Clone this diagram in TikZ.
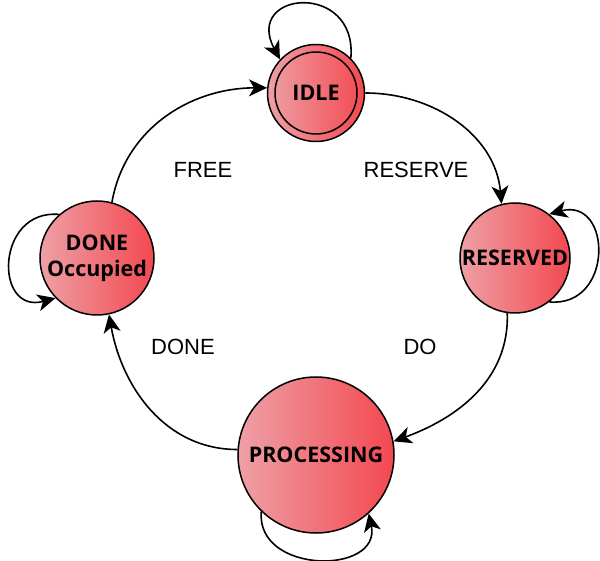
\documentclass[tikz,border=0pt]{standalone}
\usepackage{fontspec}
\setmainfont{Liberation Sans}
\newfontfamily\statefont{Open Sans}
\usetikzlibrary{arrows.meta,automata,positioning}
\definecolor{stateleft}{RGB}{238,160,166}
\definecolor{stateright}{RGB}{244,72,80}

\begin{document}
\begin{tikzpicture}[x=1pt,y=1pt,
    state/.style={circle, draw, line width=1.5pt, inner sep=0pt,
      left color=stateleft, right color=stateright,
      font=\statefont\bfseries\fontsize{21.5}{26}\selectfont, align=center},
    trans/.style={line width=1.6pt, -{Stealth[length=18pt,width=17pt,inset=5pt]}},
    lbl/.style={font=\fontsize{22}{26}\selectfont}]
  \useasboundingbox (0,0) rectangle (600,560);

  % states
  \node[state, minimum size=97pt] (idle) at (316,467) {IDLE};
  \draw[line width=1.5pt] (idle.center) circle[radius=41pt];
  \node[state, minimum size=110pt] (reserved) at (515,302) {RESERVED};
  \node[state, minimum size=156pt] (processing) at (316,105) {PROCESSING};
  \node[state, minimum size=114pt] (done) at (97,302) {DONE\\Occupied};

  % transitions
  \draw[trans] (idle.east) to[out=0,in=95] (reserved.104);
  \draw[trans] (reserved.262) to[out=-88,in=20] (processing.10);
  \draw[trans] (processing.176) to[out=180,in=-80] (done.-78);
  \draw[trans] (done.75) to[out=80,in=180] (idle.174);

  % self loops
  \draw[trans] (idle.45) to[out=85,in=118,looseness=2.8] (idle.137);
  \draw[trans] (reserved.-52) to[out=-5,in=15,looseness=1.9] (reserved.52);
  \draw[trans] (done.131) to[out=175,in=195,looseness=1.95] (done.224);
  \draw[trans] (processing.-134) to[out=-95,in=-78,looseness=1.5] (processing.-48);

  % labels
  \node[lbl] (free) at (203,390) {FREE};
  \node[lbl] (reserve) at (416,390) {RESERVE};
  \node[lbl] (donelbl) at (183,213) {DONE};
  \node[lbl] (do) at (420,213) {DO};
\end{tikzpicture}
\end{document}
